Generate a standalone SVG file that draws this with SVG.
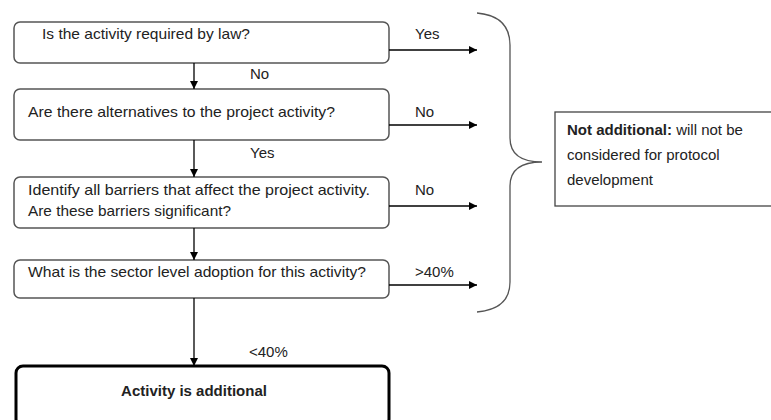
<svg xmlns="http://www.w3.org/2000/svg" width="771" height="420" viewBox="0 0 771 420">
<defs>
<style>
.box{fill:#fff;stroke:#555;stroke-width:1.5}
.final{fill:#fff;stroke:#000;stroke-width:3}
.t{font-family:"Liberation Sans",Arial,sans-serif;font-size:15px;fill:#222}
.b{font-weight:bold}
.c{stroke:#000;stroke-width:1.3;fill:none}
.brace{stroke:#555;stroke-width:1.3;fill:none}
</style>
<marker id="ah" viewBox="0 0 10 10" refX="10" refY="5" markerWidth="8" markerHeight="8" markerUnits="userSpaceOnUse" orient="auto">
<path d="M0,0 L10,5 L0,10 z" fill="#000"/>
</marker>
</defs>
<rect width="771" height="420" fill="#fff"/>
<g id="q1">
<rect class="box" x="14" y="22" width="375" height="41" rx="6"/>
<text class="t" x="42" y="39" textLength="208" lengthAdjust="spacingAndGlyphs">Is the activity required by law?</text>
</g>
<g id="q2">
<rect class="box" x="14" y="89" width="375" height="51" rx="6"/>
<text class="t" x="28" y="117" textLength="307" lengthAdjust="spacingAndGlyphs">Are there alternatives to the project activity?</text>
</g>
<g id="q3">
<rect class="box" x="14" y="177" width="375" height="51" rx="6"/>
<text class="t" x="28" y="195" textLength="342" lengthAdjust="spacingAndGlyphs">Identify all barriers that affect the project activity.</text>
<text class="t" x="28" y="216" textLength="203" lengthAdjust="spacingAndGlyphs">Are these barriers significant?</text>
</g>
<g id="q4">
<rect class="box" x="14" y="260" width="375" height="38" rx="6"/>
<text class="t" x="28" y="277" textLength="338" lengthAdjust="spacingAndGlyphs">What is the sector level adoption for this activity?</text>
</g>
<g id="result">
<rect class="final" x="16" y="366" width="373" height="60" rx="7"/>
<text class="t b" x="194" y="396" text-anchor="middle" fill="#000">Activity is additional</text>
</g>
<g id="notadditional">
<rect x="555" y="112" width="218" height="94" fill="#fff" stroke="#444" stroke-width="1.3"/>
<text class="t" x="567" y="135"><tspan class="b">Not additional:</tspan> will not be</text>
<text class="t" x="567" y="160">considered for protocol</text>
<text class="t" x="567" y="185">development</text>
</g>
<g id="connectors">
<line class="c" x1="389" y1="50" x2="477" y2="50" marker-end="url(#ah)"/>
<line class="c" x1="389" y1="125" x2="477" y2="125" marker-end="url(#ah)"/>
<line class="c" x1="389" y1="206" x2="477" y2="206" marker-end="url(#ah)"/>
<line class="c" x1="389" y1="285" x2="477" y2="285" marker-end="url(#ah)"/>
<line class="c" x1="194" y1="63" x2="194" y2="89" marker-end="url(#ah)"/>
<line class="c" x1="194" y1="140" x2="194" y2="177" marker-end="url(#ah)"/>
<line class="c" x1="194" y1="228" x2="194" y2="260" marker-end="url(#ah)"/>
<line class="c" x1="194" y1="298" x2="194" y2="366" marker-end="url(#ah)"/>
<path class="brace" d="M477,13 Q510,16 510,45 L510,138 Q510,162 542,162 Q510,162 510,186 L510,282 Q510,309 477,312"/>
<text class="t" x="415" y="39">Yes</text>
<text class="t" x="250" y="79">No</text>
<text class="t" x="415" y="117">No</text>
<text class="t" x="250" y="158">Yes</text>
<text class="t" x="415" y="195">No</text>
<text class="t" x="415" y="277">&gt;40%</text>
<text class="t" x="249" y="357">&lt;40%</text>
</g>
</svg>
